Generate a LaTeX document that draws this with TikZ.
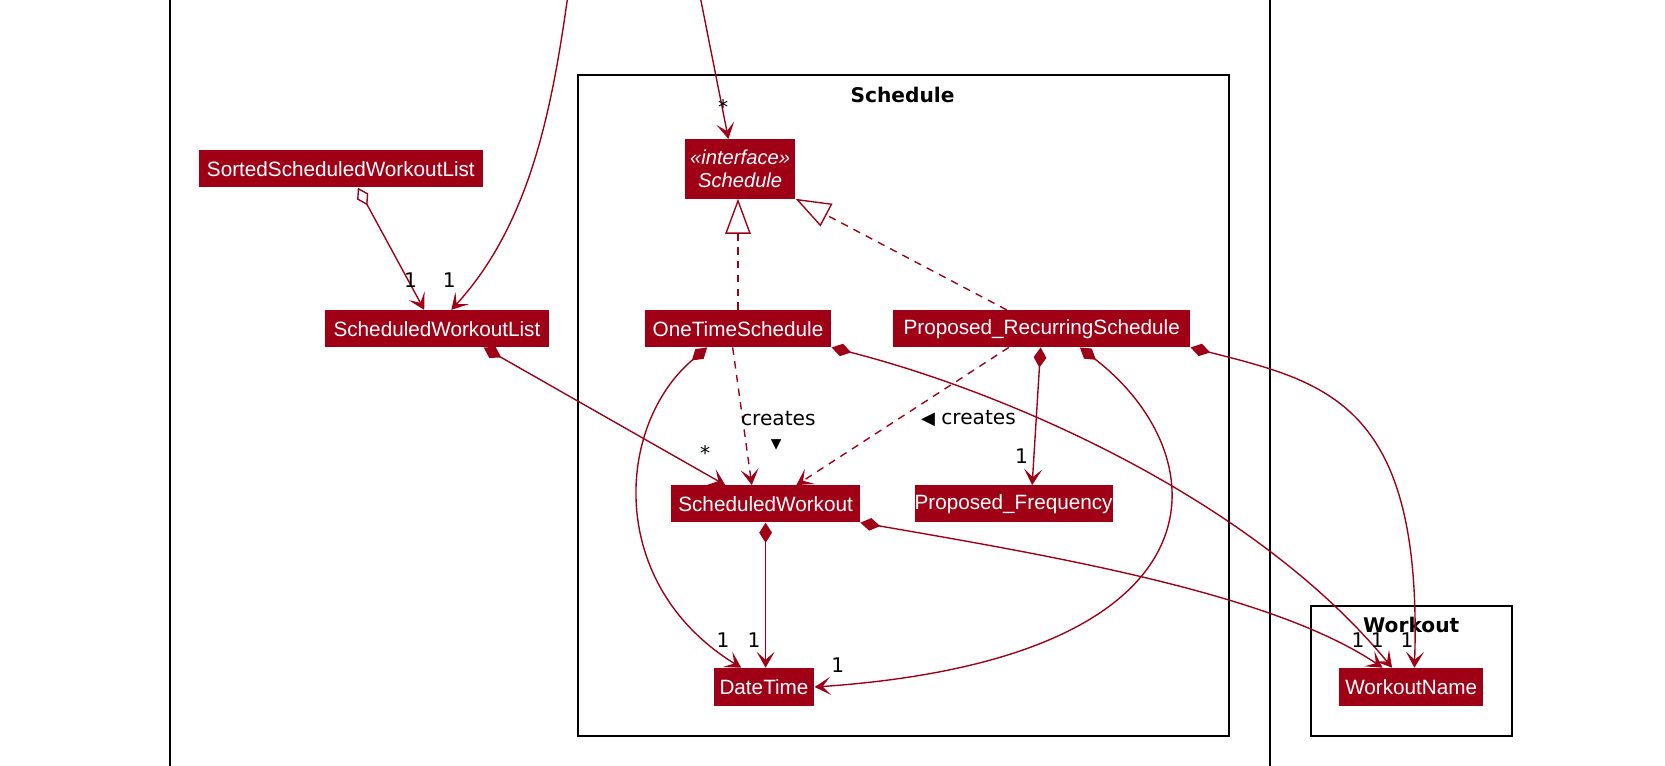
\documentclass[tikz,border=0pt]{standalone}
\usepackage{fontspec}
\setmainfont{Liberation Sans}
\newfontfamily\lblfont{DejaVu Sans}
\usetikzlibrary{arrows.meta}
\definecolor{umlred}{RGB}{160,0,22}
\begin{document}
\begin{tikzpicture}[x=1pt,y=-1pt,
  >={Stealth[length=15pt,width=17pt,inset=7.5pt]},
  cls/.style={fill=umlred, text=white, inner sep=0pt, minimum height=35pt, font=\fontsize{19.5}{22}\selectfont},
  pkg/.style={draw=black, line width=1.8pt},
  ptitle/.style={font=\lblfont\bfseries\fontsize{19}{20}\selectfont, inner sep=0pt},
  lbl/.style={font=\lblfont\fontsize{19}{20}\selectfont, inner sep=0pt},
  edge/.style={draw=umlred, line width=1.3pt},
  dsh/.style={dash pattern=on 7pt off 6pt},
  comp/.style={{Diamond[length=19pt,width=12pt]}->},
  aggr/.style={{Diamond[open,fill=white,length=19pt,width=12pt]}->},
  real/.style={-{Triangle[open,fill=white,length=33pt,width=24pt]}}
]
\useasboundingbox (0,0) rectangle (1568,721);
\fill[white] (0,0) rectangle (1568,721);
% packages
\draw[pkg] (160,-20) rectangle (1196,740);
\draw[pkg] (544,71) rectangle (1157,693);
\draw[pkg] (1235,571) rectangle (1424,693);
\node[ptitle] (tSched) at (850,89) {Schedule};
\node[ptitle] (tWork) at (1329,589) {Workout};
% classes
\node[cls, minimum width=268pt] (SSWL) at (321,159) {SortedScheduledWorkoutList};
\node[cls, minimum width=211pt] (SWL) at (411.5,309.5) {ScheduledWorkoutList};
\node[cls, minimum width=104pt, minimum height=56pt, align=center, font=\itshape\fontsize{19}{22}\selectfont] (IS) at (697,159) {«interface»\\Schedule};
\node[cls, minimum width=176pt] (OTS) at (695,309.5) {OneTimeSchedule};
\node[cls, minimum width=280pt] (PRS) at (981,309.5) {Proposed\_RecurringSchedule};
\node[cls, minimum width=178pt] (SW) at (721,474.5) {ScheduledWorkout};
\node[cls, minimum width=173pt] (PF) at (954.5,474.5) {Proposed\_Frequency};
\node[cls, minimum width=95pt, minimum height=36pt] (DT) at (719.5,647) {DateTime};
\node[cls, minimum width=136pt, minimum height=36pt] (WN) at (1329,647) {WorkoutName};
% off-page ends
\coordinate (top1) at (534.5,-2);
\coordinate (top2) at (659.6,-2);
% connectors
\draw[edge,->] (top1) .. controls (520,100) and (500,210) .. ([xshift=13.5pt]SWL.north);
\draw[edge,->] (top2) -- ([xshift=-11pt]IS.north);
\draw[edge,aggr] ([xshift=16pt]SSWL.south) -- ([xshift=-12pt]SWL.north);
\draw[edge,dsh,real] (OTS.north) -- (OTS.north |- IS.south);
\draw[edge,dsh,real] ([xshift=-33pt]PRS.north) -- (IS.south east);
\draw[edge,comp] ([xshift=44pt]SWL.south) -- ([xshift=-38pt]SW.north);
\draw[edge,dsh,->] ([xshift=-5pt]OTS.south) -- ([xshift=-13pt]SW.north);
\draw[edge,dsh,->] ([xshift=-31pt]PRS.south) -- ([xshift=29pt]SW.north);
\draw[edge,comp] ([xshift=-1pt]PRS.south) -- ([xshift=17.5pt]PF.north);
\draw[edge,comp] ([xshift=-29pt]OTS.south) .. controls (580,400) and (570,550) .. ([xshift=-21.5pt]DT.north);
\draw[edge,comp] (SW.south) -- (SW.south |- DT.north);
\draw[edge,comp] ([xshift=36pt]PRS.south) .. controls (1150,430) and (1160,620) .. (DT.east);
\draw[edge,comp] (OTS.south east) .. controls (950,370) and (1180,470) .. ([xshift=-18pt]WN.north);
\draw[edge,comp] (SW.south east) .. controls (1000,525) and (1200,560) .. ([xshift=-27pt]WN.north);
\draw[edge,comp] (PRS.south east) .. controls (1250,360) and (1340,380) .. ([xshift=3pt]WN.north);
% labels
\node[lbl] (l1) at (386.7,264) {1};
\node[lbl] (l2) at (423,264) {1};
\node[lbl] (l3) at (681,101) {*};
\node[lbl] (l4) at (664,427) {*};
\node[lbl] (l5) at (733,394) {creates};
\node[lbl, font=\lblfont\fontsize{13}{13}\selectfont] (l6) at (731,419) {▼};
\node[lbl] (l7) at (912,394) {{\fontsize{17}{17}\selectfont ◀} creates};
\node[lbl] (l8) at (962,430) {1};
\node[lbl] (l9) at (681,603) {1};
\node[lbl] (l10) at (710,603) {1};
\node[lbl] (l11) at (789,626) {1};
\node[lbl] (l12) at (1279,603) {1};
\node[lbl] (l13) at (1297,603) {1};
\node[lbl] (l14) at (1325,603) {1};
\end{tikzpicture}
\end{document}
